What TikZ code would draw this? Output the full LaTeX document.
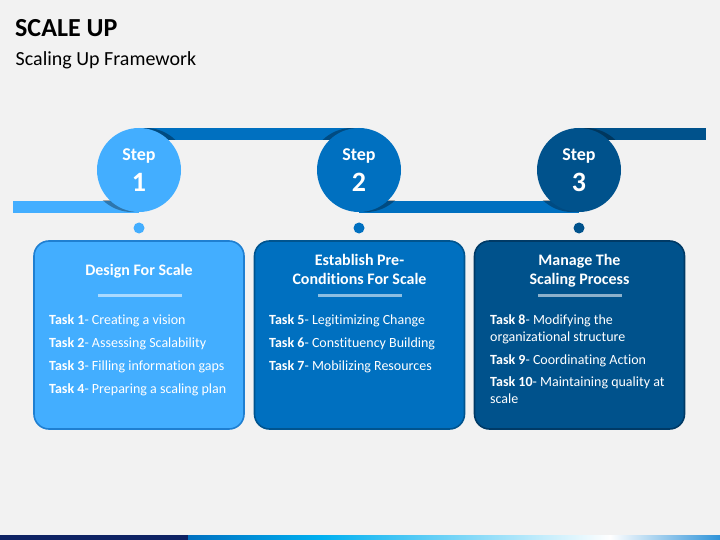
\documentclass[tikz,border=0pt]{standalone}
\usepackage{fontspec}
\setmainfont{Carlito}[Ligatures=NoCommon]
\usetikzlibrary{calc}
\definecolor{slide}{HTML}{F2F2F2}
\definecolor{stepA}{HTML}{43AEFF}
\definecolor{stepB}{HTML}{0070C0}
\definecolor{stepC}{HTML}{00528C}
\definecolor{edgeA}{HTML}{1F7FD1}
\definecolor{edgeB}{HTML}{00548F}
\definecolor{edgeC}{HTML}{003A66}
\definecolor{navy}{HTML}{0E2263}
\definecolor{cyanish}{HTML}{00B0F0}
\definecolor{endblue}{HTML}{2E93D9}
\def\barshade(#1)(#2)(#3){\begin{scope}\clip (#2) rectangle (#3);\fill[black, opacity=0.32] (#1) circle (42pt);\end{scope}}
\tikzset{
	stepcirc/.style={circle, minimum size=84pt, inner sep=0pt},
	stepdot/.style={circle, minimum size=11pt, inner sep=0pt},
	taskbox/.style={rounded corners=15pt, line width=1.6pt, minimum width=210pt, minimum height=188pt},
	steplbl/.style={anchor=base, text=white, font=\fontsize{18}{20}\selectfont\bfseries, inner sep=0pt},
	stepnum/.style={anchor=base, text=white, font=\fontsize{28}{30}\selectfont\bfseries, inner sep=0pt},
	boxtitle/.style={anchor=base, text=white, font=\fontsize{16}{19}\selectfont\bfseries, inner sep=0pt},
	taskline/.style={anchor=base west, text=white, font=\fontsize{14}{17}\selectfont, inner sep=0pt},
	sepline/.style={line width=3pt, white, opacity=0.55}
}
\begin{document}
\begin{tikzpicture}[x=1pt, y=-1pt]
			%%%%% SLIDE %%%%%
			\fill[slide] (0, 0) rectangle (720, 540);
			\useasboundingbox (0, 0) rectangle (720, 540);
			
			\node[anchor=base west, inner sep=0pt, font=\fontsize{26}{30}\selectfont\bfseries] (title) at (15, 36.7) {SCALE UP};
			\node[anchor=base west, inner sep=0pt, font=\fontsize{20}{24}\selectfont] (subtitle) at (15.5, 66) {Scaling Up Framework};
			
			%%%%% STEPS %%%%%
			\coordinate (c1) at (139, 170);
			\coordinate (c2) at (359, 170);
			\coordinate (c3) at (579, 170);
			\coordinate (lend) at (13, 201);
			\coordinate (rend) at (706, 128);
			
			\fill[stepA] (lend) rectangle (139, 213);
			\fill[stepB] (139, 128) rectangle (359, 140);
			\fill[stepB] (359, 201) rectangle (579, 213);
			\fill[stepC] (579, 128) rectangle (rend |- 0, 140);
			
			\barshade($(c1)+(-7,0)$)(lend)(139, 213)
			\barshade($(c1)+(7,0)$)(139, 128)(359, 140)
			\barshade($(c2)+(-7,0)$)(139, 128)(359, 140)
			\barshade($(c2)+(7,0)$)(359, 201)(579, 213)
			\barshade($(c3)+(-7,0)$)(359, 201)(579, 213)
			\barshade($(c3)+(7,0)$)(579, 128)(706, 140)
			
			\node[stepcirc, fill=stepA] (step1) at (c1) {};
			\node[stepcirc, fill=stepB] (step2) at (c2) {};
			\node[stepcirc, fill=stepC] (step3) at (c3) {};
			
			\node[steplbl] (lbl1) at (139, 160.7) {Step};
			\node[steplbl] (lbl2) at (359, 160.7) {Step};
			\node[steplbl] (lbl3) at (579, 160.7) {Step};
			\node[stepnum] (num1) at (139, 191.7) {1};
			\node[stepnum] (num2) at (359, 191.7) {2};
			\node[stepnum] (num3) at (579, 191.7) {3};
			
			\node[stepdot, fill=stepA] (dot1) at (139, 228) {};
			\node[stepdot, fill=stepB] (dot2) at (359, 228) {};
			\node[stepdot, fill=stepC] (dot3) at (579, 228) {};
			
			%%%%% BOXES %%%%%
			\node[taskbox, fill=stepA, draw=edgeA] (box1) at (139, 335) {};
			\node[taskbox, fill=stepB, draw=edgeB] (box2) at (359.5, 335) {};
			\node[taskbox, fill=stepC, draw=edgeC] (box3) at (579.5, 335) {};
			
			\node[boxtitle] (head1) at (139, 275) {Design For Scale};
			\node[boxtitle] (head2a) at (359.5, 265) {Establish Pre-};
			\node[boxtitle] (head2b) at (359.5, 284) {Conditions For Scale};
			\node[boxtitle] (head3a) at (579.5, 265) {Manage The};
			\node[boxtitle] (head3b) at (579.5, 284) {Scaling Process};
			
			\draw[sepline] (98, 295) -- (182, 295);
			\draw[sepline] (318, 295) -- (402, 295);
			\draw[sepline] (538, 295) -- (622, 295);
			
			\node[taskline] (task1) at (49, 324) {\textbf{Task 1}- Creating a vision};
			\node[taskline] (task2) at (49, 347) {\textbf{Task 2}- Assessing Scalability};
			\node[taskline] (task3) at (49, 370) {\textbf{Task 3}- Filling information gaps};
			\node[taskline] (task4) at (49, 393) {\textbf{Task 4}- Preparing a scaling plan};
			
			\node[taskline] (task5) at (269, 324) {\textbf{Task 5}- Legitimizing Change};
			\node[taskline] (task6) at (269, 347) {\textbf{Task 6}- Constituency Building};
			\node[taskline] (task7) at (269, 370) {\textbf{Task 7}- Mobilizing Resources};
			
			\node[taskline] (task8) at (490, 324) {\textbf{Task 8}- Modifying the};
			\node[taskline] (task8b) at (490, 341) {organizational structure};
			\node[taskline] (task9) at (490, 364) {\textbf{Task 9}- Coordinating Action};
			\node[taskline] (task10) at (490, 386) {\textbf{Task 10}- Maintaining quality at};
			\node[taskline] (task10b) at (490, 403) {scale};
			
			%%%%% FOOTER STRIP %%%%%
			\fill[navy] (0, 535) rectangle (188, 540);
			\shade[left color=stepB, right color=cyanish] (188, 535) rectangle (321, 540);
			\shade[left color=cyanish, right color=white] (321, 535) rectangle (610, 540);
			\shade[left color=white, right color=endblue] (610, 535) rectangle (720, 540);
			
			%%%%% END %%%%%
\end{tikzpicture}
\end{document}
